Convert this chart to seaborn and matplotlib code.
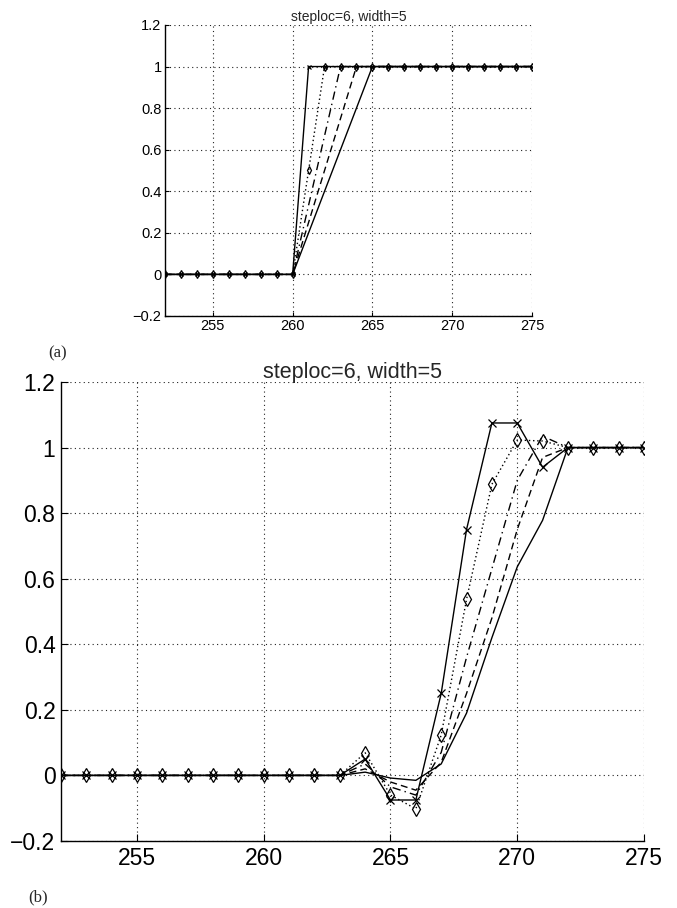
import matplotlib
matplotlib.use("Agg")
import matplotlib.pyplot as plt
import seaborn as sns
import pandas as pd
from matplotlib.ticker import FuncFormatter

# sample index shared by both panels
samples = [252, 253, 254, 255, 256, 257, 258, 259, 260, 261, 262, 263,
           264, 265, 266, 267, 268, 269, 270, 271, 272, 273, 274, 275]

# (a) ideal ramps of width 1..5 starting at sample 260
ramp_w1 = [0, 0, 0, 0, 0, 0, 0, 0, 0, 1, 1, 1, 1, 1, 1, 1, 1, 1, 1, 1, 1, 1, 1, 1]
ramp_w2 = [0, 0, 0, 0, 0, 0, 0, 0, 0, 0.5, 1, 1, 1, 1, 1, 1, 1, 1, 1, 1, 1, 1, 1, 1]
ramp_w3 = [0, 0, 0, 0, 0, 0, 0, 0, 0, 0.333, 0.667, 1, 1, 1, 1, 1, 1, 1, 1, 1, 1, 1, 1, 1]
ramp_w4 = [0, 0, 0, 0, 0, 0, 0, 0, 0, 0.25, 0.5, 0.75, 1, 1, 1, 1, 1, 1, 1, 1, 1, 1, 1, 1]
ramp_w5 = [0, 0, 0, 0, 0, 0, 0, 0, 0, 0.2, 0.4, 0.6, 0.8, 1, 1, 1, 1, 1, 1, 1, 1, 1, 1, 1]

# (b) filtered responses to the same ramps
resp_w1 = [0, 0, 0, 0, 0, 0, 0, 0, 0, 0, 0, 0,
           0.05, -0.075, -0.075, 0.25, 0.75, 1.075, 1.075, 0.94, 1.0, 1, 1, 1]
resp_w2 = [0, 0, 0, 0, 0, 0, 0, 0, 0, 0, 0, 0,
           0.069, -0.06, -0.102, 0.123, 0.537, 0.888, 1.023, 1.02, 1.0, 1, 1, 1]
resp_w3 = [0, 0, 0, 0, 0, 0, 0, 0, 0, 0, 0, 0,
           0.035, -0.035, -0.06, 0.07, 0.36, 0.63, 0.90, 1.035, 1.0, 1, 1, 1]
resp_w4 = [0, 0, 0, 0, 0, 0, 0, 0, 0, 0, 0, 0,
           0.02, -0.02, -0.045, 0.04, 0.25, 0.48, 0.75, 0.97, 1.0, 1, 1, 1]
resp_w5 = [0, 0, 0, 0, 0, 0, 0, 0, 0, 0, 0, 0,
           0.01, -0.008, -0.015, 0.035, 0.19, 0.42, 0.636, 0.778, 1.0, 1, 1, 1]

panel_title = "steploc=6, width=5"
xticks = [255, 260, 265, 270, 275]
yticks = [-0.2, 0, 0.2, 0.4, 0.6, 0.8, 1.0, 1.2]

sns.set_style("white")
plt.rcParams["font.family"] = ["Liberation Sans", "DejaVu Sans"]

fig = plt.figure(figsize=(6.77, 9.08), dpi=100)
ax_a = fig.add_axes([0.2437, 0.6520, 0.5421, 0.3205])
ax_b = fig.add_axes([0.0901, 0.0738, 0.8611, 0.5055])

styles = [
    dict(linestyle="-", marker="x"),
    dict(linestyle=(0, (1, 2)), marker="d"),
    dict(linestyle=(0, (6, 3, 1, 3))),
    dict(linestyle=(0, (5, 3))),
    dict(linestyle="-"),
]


def draw(ax, series, msize, lw):
    for vals, st in zip(series, styles):
        df = pd.DataFrame({"sample": samples, "value": vals})
        kw = dict(st)
        if kw.get("marker") == "d":
            kw.update(markerfacecolor="none", markeredgecolor="black",
                      markeredgewidth=0.9, markersize=msize * 1.25)
        elif kw.get("marker") == "x":
            kw.update(markeredgecolor="black", markeredgewidth=0.9,
                      markersize=msize)
        sns.lineplot(data=df, x="sample", y="value", ax=ax, color="black",
                     linewidth=lw, estimator=None, sort=False, **kw)


def style_axes(ax, fs, title_fs, tick_len, pad, title_pad):
    ax.set_xlim(252, 275)
    ax.set_ylim(-0.2, 1.2)
    ax.set_xticks(xticks)
    ax.set_yticks(yticks)
    ax.yaxis.set_major_formatter(FuncFormatter(lambda v, p: f"{v:g}".replace("-", "\u2212")))
    ax.grid(True, linestyle=(0, (1, 3)), linewidth=0.8, color="#222222")
    ax.set_axisbelow(True)
    for side in ("top", "right"):
        ax.spines[side].set_visible(False)
    for side in ("left", "bottom"):
        ax.spines[side].set_color("black")
        ax.spines[side].set_linewidth(1.0)
    ax.tick_params(direction="in", length=tick_len, width=0.8, colors="black",
                   labelsize=fs, pad=pad, left=True, bottom=True)
    ax.set_xlabel("")
    ax.set_ylabel("")
    ax.set_title(panel_title, fontsize=title_fs, pad=title_pad)


draw(ax_a, [ramp_w1, ramp_w2, ramp_w3, ramp_w4, ramp_w5], 3.2, 1.0)
style_axes(ax_a, 10.5, 10, 3, 2.5, 3)

draw(ax_b, [resp_w1, resp_w2, resp_w3, resp_w4, resp_w5], 5.5, 1.0)
style_axes(ax_b, 16.5, 15.5, 5, 4, 3)

fig.text(0.0857, 0.6112, "(a)", family=["Liberation Serif", "DejaVu Serif"],
         fontsize=12, ha="center", va="center")
fig.text(0.056, 0.0121, "(b)", family=["Liberation Serif", "DejaVu Serif"],
         fontsize=12, ha="center", va="center")

fig.savefig("out.png", dpi=100)
